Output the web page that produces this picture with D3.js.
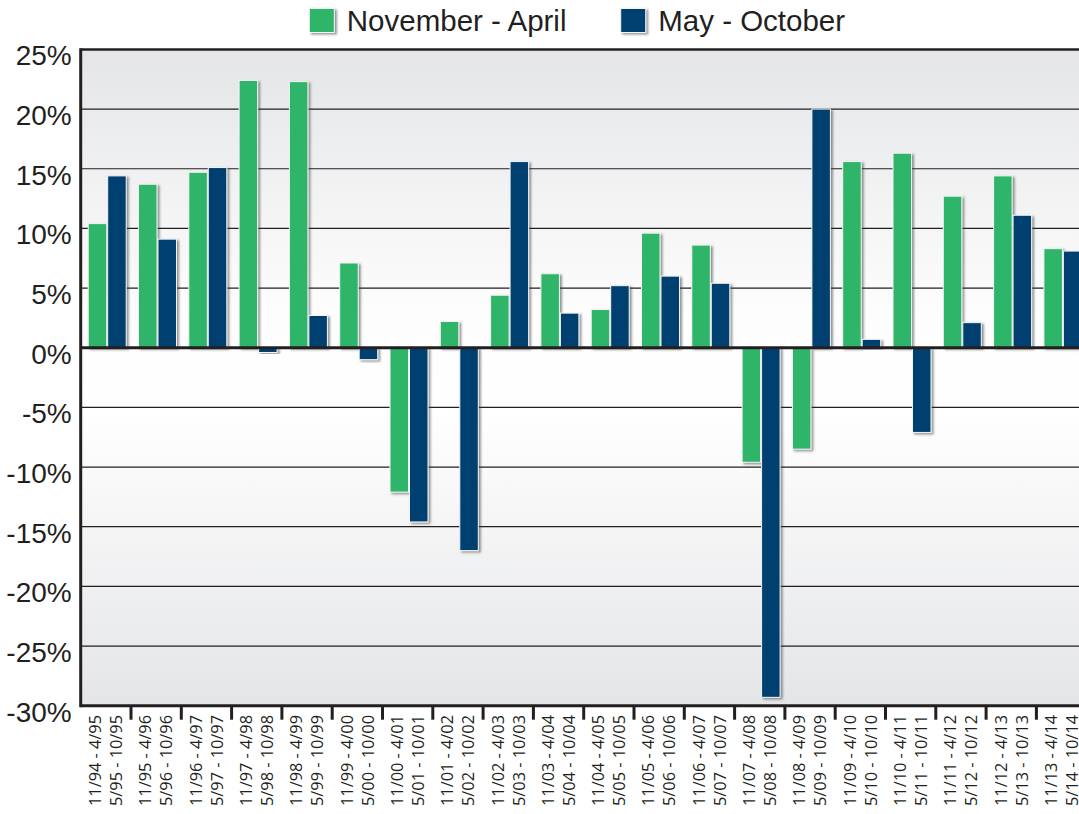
<!DOCTYPE html>
<html>
<head>
<meta charset="utf-8">
<script src="https://cdn.jsdelivr.net/npm/d3@7/dist/d3.min.js"></script>
<style>
  body { margin: 0; background: #fff; }
  svg { display: block; }
</style>
</head>
<body>
<div id="chart"></div>
<script>
// Periods (two-line tick labels)
const novAprLabels = ["11/94 - 4/95", "11/95 - 4/96", "11/96 - 4/97", "11/97 - 4/98", "11/98 - 4/99",
  "11/99 - 4/00", "11/00 - 4/01", "11/01 - 4/02", "11/02 - 4/03", "11/03 - 4/04",
  "11/04 - 4/05", "11/05 - 4/06", "11/06 - 4/07", "11/07 - 4/08", "11/08 - 4/09",
  "11/09 - 4/10", "11/10 - 4/11", "11/11 - 4/12", "11/12 - 4/13", "11/13 - 4/14"];
const mayOctLabels = ["5/95 - 10/95", "5/96 - 10/96", "5/97 - 10/97", "5/98 - 10/98", "5/99 - 10/99",
  "5/00 - 10/00", "5/01 - 10/01", "5/02 - 10/02", "5/03 - 10/03", "5/04 - 10/04",
  "5/05 - 10/05", "5/06 - 10/06", "5/07 - 10/07", "5/08 - 10/08", "5/09 - 10/09",
  "5/10 - 10/10", "5/11 - 10/11", "5/12 - 10/12", "5/13 - 10/13", "5/14 - 10/14"];

// Returns in percent
const novAprValues = [10.4, 13.7, 14.7, 22.4, 22.3, 7.1, -12.1, 2.2, 4.4, 6.2,
  3.2, 9.6, 8.6, -9.6, -8.5, 15.6, 16.3, 12.7, 14.4, 8.3];
const mayOctValues = [14.4, 9.1, 15.1, -0.4, 2.7, -1.0, -14.6, -17.0, 15.6, 2.9,
  5.2, 6.0, 5.4, -29.3, 20.0, 0.7, -7.1, 2.1, 11.1, 8.1];

const yTicks = [25, 20, 15, 10, 5, 0, -5, -10, -15, -20, -25, -30];

const seriesNames = ["November - April", "May - October"];
const seriesKeys = ["novApr", "mayOct"];
const colors = { novApr: "#2fb56a", mayOct: "#004170" };

const W = 1079, H = 814;
const plot = { left: 80.7, right: 1086.7, top: 49.4, bottom: 705.7 };
const ink = "#231f20";

const data = novAprLabels.map((d, i) => ({
  key: i,
  label1: d,
  label2: mayOctLabels[i],
  novApr: novAprValues[i],
  mayOct: mayOctValues[i]
}));

const svg = d3.select("#chart").append("svg")
  .attr("width", W)
  .attr("height", H);

const defs = svg.append("defs");
const grad = defs.append("linearGradient")
  .attr("id", "bg").attr("x1", 0).attr("y1", 0).attr("x2", 0).attr("y2", 1);
grad.append("stop").attr("offset", "0%").attr("stop-color", "#e4e5e7");
grad.append("stop").attr("offset", "40%").attr("stop-color", "#fdfdfd");
grad.append("stop").attr("offset", "55%").attr("stop-color", "#ffffff");
grad.append("stop").attr("offset", "100%").attr("stop-color", "#e4e5e7");

const shadow = defs.append("filter").attr("id", "shadow")
  .attr("x", "-30%").attr("y", "-10%").attr("width", "170%").attr("height", "130%");
shadow.append("feDropShadow")
  .attr("dx", 2).attr("dy", 1.5).attr("stdDeviation", 1.2)
  .attr("flood-color", "#3a3a3a").attr("flood-opacity", 0.55);

const x = d3.scaleBand()
  .domain(data.map(d => d.key))
  .range([plot.left, plot.right])
  .padding(0);

const x1 = d3.scaleBand()
  .domain(seriesKeys)
  .range([7.5, 45.5])
  .paddingInner(0.05);

const y = d3.scaleLinear()
  .domain([-30, 25])
  .range([plot.bottom, plot.top]);

// background
svg.append("rect")
  .attr("x", plot.left).attr("y", plot.top)
  .attr("width", plot.right - plot.left).attr("height", plot.bottom - plot.top)
  .attr("fill", "url(#bg)");

// gridlines
svg.append("g")
  .selectAll("line")
  .data(yTicks.filter(t => t !== 0 && t !== 25 && t !== -30))
  .join("line")
    .attr("x1", plot.left).attr("x2", plot.right)
    .attr("y1", d => y(d)).attr("y2", d => y(d))
    .attr("stroke", ink).attr("stroke-width", 1.2);

// bars
const groups = svg.append("g")
  .selectAll("g")
  .data(data)
  .join("g")
    .attr("transform", d => "translate(" + x(d.key) + ",0)");

groups.selectAll("rect")
  .data(d => seriesKeys.map(k => ({ k: k, v: d[k] })))
  .join("rect")
    .attr("x", d => x1(d.k))
    .attr("y", d => y(Math.max(0, d.v)))
    .attr("width", x1.bandwidth())
    .attr("height", d => Math.abs(y(d.v) - y(0)))
    .attr("fill", d => colors[d.k])
    .attr("stroke", "#f4f4f4")
    .attr("stroke-width", 1)
    .attr("filter", "url(#shadow)");

// zero line
svg.append("line")
  .attr("x1", plot.left).attr("x2", plot.right)
  .attr("y1", y(0)).attr("y2", y(0))
  .attr("stroke", ink).attr("stroke-width", 3);

// frame: top, bottom, left
svg.append("line")
  .attr("x1", plot.left).attr("x2", plot.right)
  .attr("y1", y(25)).attr("y2", y(25))
  .attr("stroke", ink).attr("stroke-width", 2.5);
svg.append("line")
  .attr("x1", plot.left).attr("x2", plot.right)
  .attr("y1", y(-30)).attr("y2", y(-30))
  .attr("stroke", ink).attr("stroke-width", 3);
svg.append("line")
  .attr("x1", plot.left).attr("x2", plot.left)
  .attr("y1", y(25) - 1.2).attr("y2", y(-30) + 1.5)
  .attr("stroke", ink).attr("stroke-width", 3);

// y axis labels
const yAxis = svg.append("g")
  .attr("transform", "translate(" + plot.left + ",0)")
  .call(d3.axisLeft(y).tickValues(yTicks).tickSize(0).tickPadding(9).tickFormat(d => d + "%"));
yAxis.select(".domain").remove();
yAxis.selectAll("text")
  .attr("dy", "0.55em")
  .style("font-family", "'Liberation Sans', Arial, sans-serif")
  .style("font-size", "28px")
  .attr("fill", ink);

// x ticks at band boundaries
svg.append("g")
  .selectAll("line")
  .data(data)
  .join("line")
    .attr("x1", d => x(d.key) + x.bandwidth()).attr("x2", d => x(d.key) + x.bandwidth())
    .attr("y1", y(-30)).attr("y2", y(-30) + 14)
    .attr("stroke", ink).attr("stroke-width", 3);

// x labels (rotated, two lines)
const xl = svg.append("g")
  .selectAll("g")
  .data(data)
  .join("g")
    .attr("transform", d => "translate(" + (x(d.key) + x.bandwidth() / 2) + "," + 715 + ") rotate(-90)");

[["label1", -10.5], ["label2", 10.5]].forEach(([field, off]) => {
  xl.append("text")
    .attr("x", 0).attr("y", off)
    .attr("dy", "0.36em")
    .attr("text-anchor", "end")
    .attr("textLength", 91)
    .attr("lengthAdjust", "spacingAndGlyphs")
    .style("font-family", "'Open Sans', sans-serif")
    .style("font-size", "16px")
    .attr("fill", ink)
    .text(d => d[field]);
});

// legend
const legendX = [309.3, 620.7];
const legend = svg.append("g")
  .selectAll("g")
  .data(seriesKeys)
  .join("g")
    .attr("transform", (d, i) => "translate(" + legendX[i] + ",8.5)");

legend.append("rect")
  .attr("width", 25).attr("height", 24)
  .attr("fill", d => colors[d])
  .attr("stroke", "#f4f4f4").attr("stroke-width", 1)
  .attr("filter", "url(#shadow)");

legend.append("text")
  .attr("x", 37.5).attr("y", 22.5)
  .style("font-family", "'Liberation Sans', Arial, sans-serif")
  .style("font-size", "29.5px")
  .attr("fill", ink)
  .text((d, i) => seriesNames[i]);
</script>
</body>
</html>
